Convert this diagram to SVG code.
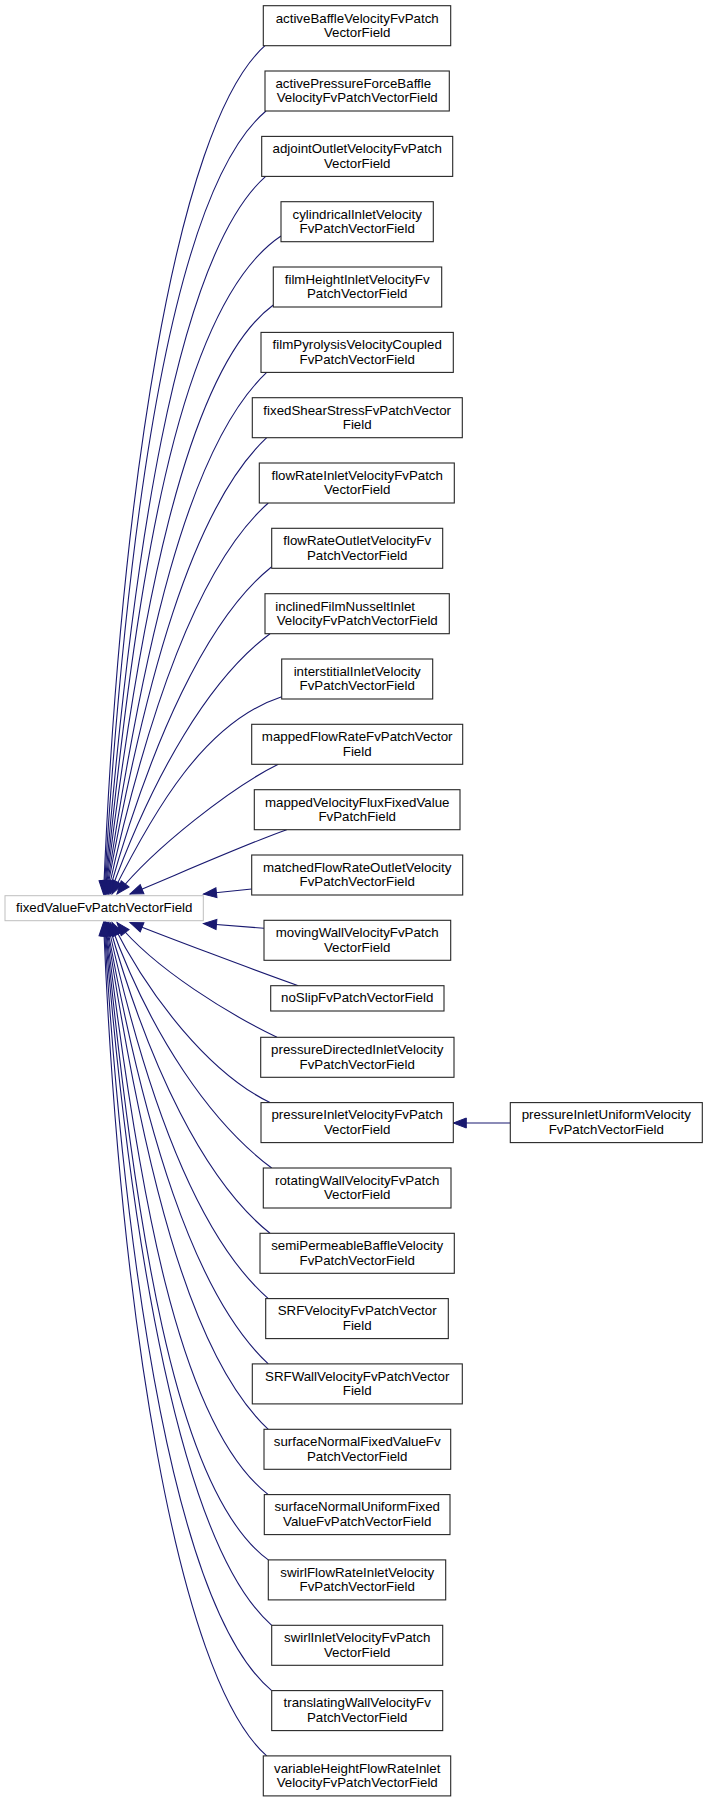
<svg xmlns="http://www.w3.org/2000/svg" width="707" height="1803" viewBox="0 0 707 1803">
<style>
.n rect{fill:#fff;stroke:#262626;stroke-width:1.1}
.m rect{fill:#fff;stroke:#bfbfbf;stroke-width:1}
text{font-family:"Liberation Sans",Arial,sans-serif;font-size:13.3px;text-anchor:middle;fill:#000}
.e path{fill:none;stroke:#191970;stroke-width:1.1;marker-end:url(#ah)}
</style>
<defs>
<marker id="ah" markerUnits="userSpaceOnUse" markerWidth="15" markerHeight="12" refX="13" refY="5" orient="auto" overflow="visible">
<path d="M0,0 L13,5 L0,10 z" fill="#191970" stroke="#191970" stroke-width="1"/>
</marker>
</defs>
<rect width="707" height="1803" fill="#fff"/>
<g id="edges" class="e">
<path d="M265,45.7 C175,125 120,500 103.5,894"/>
<path d="M266,111 C171,191 125.8,530 104,894"/>
<path d="M265.7,176.3 C175.7,256.3 131.2,560.3 104.5,894"/>
<path d="M281,236 C176,306 135.6,588 105,894"/>
<path d="M273.3,305 C185,370 138.4,620 105.5,894"/>
<path d="M266.7,372.4 C186.7,447.7 142.3,652 106,894"/>
<path d="M266.7,437.7 C191.7,508.3 144.7,682 106.5,894"/>
<path d="M268.3,503 C198.3,565.3 147.5,712 107.5,894"/>
<path d="M271.7,566.7 C206.7,618.7 151,742 108.5,894"/>
<path d="M270,633.7 C210,678.3 153.6,773 110,894"/>
<path d="M281.7,696.7 C205,722 154.5,809 112,894"/>
<path d="M278.3,764.3 C233.3,786.3 154.5,847.2 117,894"/>
<path d="M286.7,829.7 C246.7,843.7 160,882 130,894"/>
<path d="M251.7,889 L203.5,894"/>
<path d="M264,928.3 L203.5,923.5"/>
<path d="M298.3,985.7 C258.3,971.7 160,934.5 130,922.5"/>
<path d="M277,1037.3 C232,1015.7 154.5,969.3 117,922.5"/>
<path d="M270,1102.6 C210,1073.3 150,998.5 112,922.5"/>
<path d="M271.7,1168 C211.7,1123.3 151,1036.5 110,922.5"/>
<path d="M270,1233.3 C205,1181.3 149.1,1067.5 108.5,922.5"/>
<path d="M268.3,1298.6 C198.3,1237.3 146,1097.5 107.5,922.5"/>
<path d="M268.3,1363.9 C193.3,1294 143.4,1127.5 106.5,922.5"/>
<path d="M268.3,1429.3 C188.3,1355 141.4,1158.5 106,922.5"/>
<path d="M268.3,1494.6 C178.3,1425.3 137.4,1188.5 105.5,922.5"/>
<path d="M268.3,1559.9 C173.3,1490.7 134.7,1219.5 105,922.5"/>
<path d="M271.7,1625.3 C181.7,1546.7 130.7,1249.5 104.5,922.5"/>
<path d="M271.7,1690.6 C176.7,1611.7 125.5,1280 104,922.5"/>
<path d="M266.7,1755.9 C176.7,1676.7 119.8,1310.5 103.5,922.5"/>
<path d="M510.3,1123 L453.3,1123"/>
</g>
<g id="fixedValueFvPatchVectorField" class="m"><rect x="5" y="895.7" width="198.3" height="25"/><text x="104.2" y="912.3">fixedValueFvPatchVectorField</text></g>
<g id="activeBaffleVelocityFvPatchVectorField" class="n"><rect x="263.3" y="5.7" width="187.4" height="40"/><text x="357.2" y="22.5">activeBaffleVelocityFvPatch</text><text x="357.2" y="37">VectorField</text></g>
<g id="activePressureForceBaffleVelocityFvPatchVectorField" class="n"><rect x="265" y="71" width="184.3" height="40"/><text x="353.3" y="87.8">activePressureForceBaffle</text><text x="357.2" y="102.3">VelocityFvPatchVectorField</text></g>
<g id="adjointOutletVelocityFvPatchVectorField" class="n"><rect x="261.7" y="136.4" width="191" height="40"/><text x="357.2" y="153.2">adjointOutletVelocityFvPatch</text><text x="357.2" y="167.7">VectorField</text></g>
<g id="cylindricalInletVelocityFvPatchVectorField" class="n"><rect x="281" y="201.7" width="152.3" height="40"/><text x="357.2" y="218.5">cylindricalInletVelocity</text><text x="357.2" y="233">FvPatchVectorField</text></g>
<g id="filmHeightInletVelocityFvPatchVectorField" class="n"><rect x="273.3" y="267" width="168.4" height="40"/><text x="357.2" y="283.8">filmHeightInletVelocityFv</text><text x="357.2" y="298.3">PatchVectorField</text></g>
<g id="filmPyrolysisVelocityCoupledFvPatchVectorField" class="n"><rect x="261" y="332.4" width="192.3" height="40"/><text x="357.2" y="349.2">filmPyrolysisVelocityCoupled</text><text x="357.2" y="363.7">FvPatchVectorField</text></g>
<g id="fixedShearStressFvPatchVectorField" class="n"><rect x="252.3" y="397.7" width="210" height="40"/><text x="357.2" y="414.5">fixedShearStressFvPatchVector</text><text x="357.2" y="429">Field</text></g>
<g id="flowRateInletVelocityFvPatchVectorField" class="n"><rect x="259.3" y="463" width="195" height="40"/><text x="357.2" y="479.8">flowRateInletVelocityFvPatch</text><text x="357.2" y="494.3">VectorField</text></g>
<g id="flowRateOutletVelocityFvPatchVectorField" class="n"><rect x="271.7" y="528.3" width="171" height="40"/><text x="357.2" y="545.1">flowRateOutletVelocityFv</text><text x="357.2" y="559.6">PatchVectorField</text></g>
<g id="inclinedFilmNusseltInletVelocityFvPatchVectorField" class="n"><rect x="265" y="593.7" width="184.3" height="40"/><text x="345.2" y="610.5">inclinedFilmNusseltInlet</text><text x="357.2" y="625">VelocityFvPatchVectorField</text></g>
<g id="interstitialInletVelocityFvPatchVectorField" class="n"><rect x="281.7" y="659" width="151" height="40"/><text x="357.2" y="675.8">interstitialInletVelocity</text><text x="357.2" y="690.3">FvPatchVectorField</text></g>
<g id="mappedFlowRateFvPatchVectorField" class="n"><rect x="251.7" y="724.3" width="211" height="40"/><text x="357.2" y="741.1">mappedFlowRateFvPatchVector</text><text x="357.2" y="755.6">Field</text></g>
<g id="mappedVelocityFluxFixedValueFvPatchField" class="n"><rect x="254.3" y="789.7" width="205.7" height="40"/><text x="357.2" y="806.5">mappedVelocityFluxFixedValue</text><text x="357.2" y="821">FvPatchField</text></g>
<g id="matchedFlowRateOutletVelocityFvPatchVectorField" class="n"><rect x="251.7" y="855" width="211" height="40"/><text x="357.2" y="871.8">matchedFlowRateOutletVelocity</text><text x="357.2" y="886.3">FvPatchVectorField</text></g>
<g id="movingWallVelocityFvPatchVectorField" class="n"><rect x="264" y="920.3" width="186.7" height="40"/><text x="357.2" y="937.1">movingWallVelocityFvPatch</text><text x="357.2" y="951.6">VectorField</text></g>
<g id="noSlipFvPatchVectorField" class="n"><rect x="270.7" y="985.7" width="173.3" height="25.3"/><text x="357.2" y="1002.4">noSlipFvPatchVectorField</text></g>
<g id="pressureDirectedInletVelocityFvPatchVectorField" class="n"><rect x="260.7" y="1037.3" width="193.3" height="40"/><text x="357.2" y="1054.1">pressureDirectedInletVelocity</text><text x="357.2" y="1068.6">FvPatchVectorField</text></g>
<g id="pressureInletVelocityFvPatchVectorField" class="n"><rect x="261" y="1102.6" width="192.3" height="40"/><text x="357.2" y="1119.4">pressureInletVelocityFvPatch</text><text x="357.2" y="1133.9">VectorField</text></g>
<g id="pressureInletUniformVelocityFvPatchVectorField" class="n"><rect x="510.3" y="1102.6" width="192" height="40"/><text x="606.3" y="1119.4">pressureInletUniformVelocity</text><text x="606.3" y="1133.9">FvPatchVectorField</text></g>
<g id="rotatingWallVelocityFvPatchVectorField" class="n"><rect x="263.3" y="1168" width="187.7" height="40"/><text x="357.2" y="1184.8">rotatingWallVelocityFvPatch</text><text x="357.2" y="1199.3">VectorField</text></g>
<g id="semiPermeableBaffleVelocityFvPatchVectorField" class="n"><rect x="260" y="1233.3" width="194.3" height="40"/><text x="357.2" y="1250.1">semiPermeableBaffleVelocity</text><text x="357.2" y="1264.6">FvPatchVectorField</text></g>
<g id="SRFVelocityFvPatchVectorField" class="n"><rect x="265.7" y="1298.6" width="182.6" height="40"/><text x="357.2" y="1315.4">SRFVelocityFvPatchVector</text><text x="357.2" y="1329.9">Field</text></g>
<g id="SRFWallVelocityFvPatchVectorField" class="n"><rect x="252.3" y="1363.9" width="210" height="40"/><text x="357.2" y="1380.7">SRFWallVelocityFvPatchVector</text><text x="357.2" y="1395.2">Field</text></g>
<g id="surfaceNormalFixedValueFvPatchVectorField" class="n"><rect x="264" y="1429.3" width="186.7" height="40"/><text x="357.2" y="1446.1">surfaceNormalFixedValueFv</text><text x="357.2" y="1460.6">PatchVectorField</text></g>
<g id="surfaceNormalUniformFixedValueFvPatchVectorField" class="n"><rect x="264.3" y="1494.6" width="185.7" height="40"/><text x="357.2" y="1511.4">surfaceNormalUniformFixed</text><text x="357.2" y="1525.9">ValueFvPatchVectorField</text></g>
<g id="swirlFlowRateInletVelocityFvPatchVectorField" class="n"><rect x="268.3" y="1559.9" width="177.4" height="40"/><text x="357.2" y="1576.7">swirlFlowRateInletVelocity</text><text x="357.2" y="1591.2">FvPatchVectorField</text></g>
<g id="swirlInletVelocityFvPatchVectorField" class="n"><rect x="271.7" y="1625.3" width="171" height="40"/><text x="357.2" y="1642.1">swirlInletVelocityFvPatch</text><text x="357.2" y="1656.6">VectorField</text></g>
<g id="translatingWallVelocityFvPatchVectorField" class="n"><rect x="271.7" y="1690.6" width="171" height="40"/><text x="357.2" y="1707.4">translatingWallVelocityFv</text><text x="357.2" y="1721.9">PatchVectorField</text></g>
<g id="variableHeightFlowRateInletVelocityFvPatchVectorField" class="n"><rect x="263.3" y="1755.9" width="187.4" height="40"/><text x="357.2" y="1772.7">variableHeightFlowRateInlet</text><text x="357.2" y="1787.2">VelocityFvPatchVectorField</text></g>
</svg>
